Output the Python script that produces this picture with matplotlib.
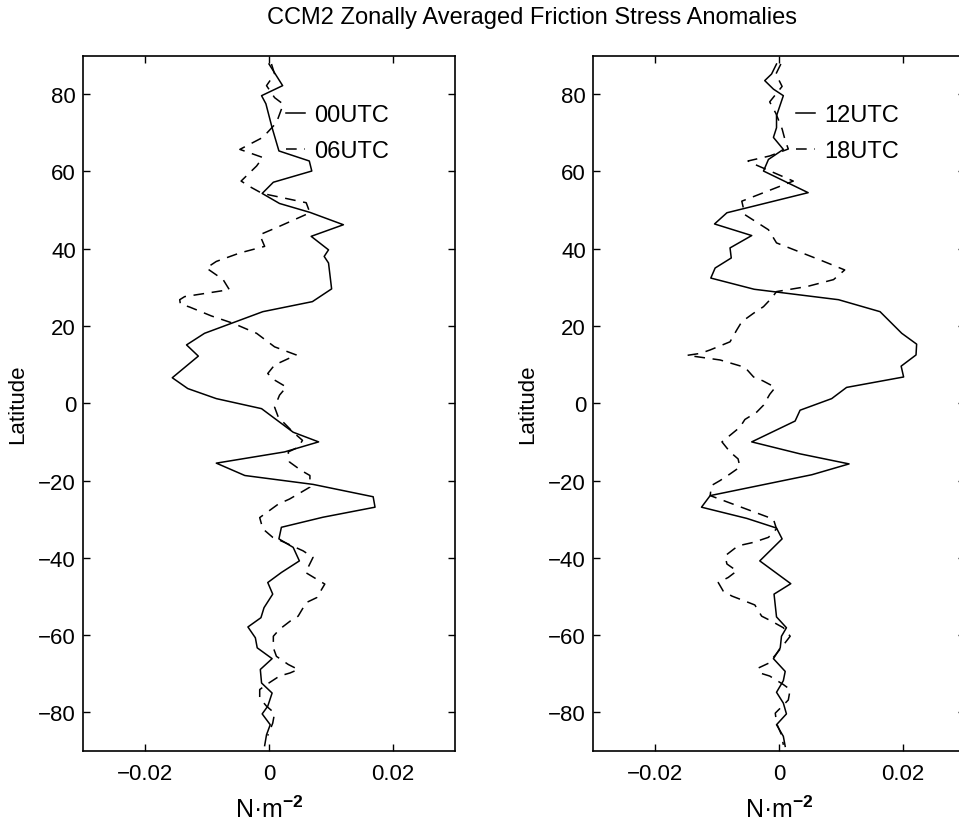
import numpy as np
import matplotlib
matplotlib.use("Agg")
import matplotlib.pyplot as plt

plt.rcParams['font.family'] = ['Liberation Sans', 'DejaVu Sans']
plt.rcParams['mathtext.fontset'] = 'custom'
plt.rcParams['mathtext.rm'] = 'Liberation Sans'
plt.rcParams['mathtext.bf'] = 'Liberation Sans:bold'

# ---
# data, values in N m^-2 x 1e-3
# ---

title = "CCM2 Zonally Averaged Friction Stress Anomalies"

lat_00 = [87.8, 82.2, 79.6, 77.5, 71.3, 65.3, 62.7, 60.1, 57.2, 54.3, 51.7, 49.4, 46.2, 43.2,
          39.7, 38.0, 36.3, 29.6, 26.3, 23.7, 18.1, 15.1, 12.2, 6.6, 3.8, 1.2, -1.4, -7.5,
          -10.0, -12.6, -15.5, -18.7, -21.0, -24.2, -26.9, -29.5, -32.1, -35.1, -37.3, -40.8,
          -43.8, -46.4, -49.4, -52.9, -55.5, -57.9, -60.7, -63.3, -66.1, -68.9, -72.4, -75.0,
          -78.4, -80.4, -83.2, -85.8, -88.6]
val_00 = [0.0, 2.2, -1.2, -0.5, 0.5, 1.6, 6.5, 6.9, 0.7, -1.1, 1.7, 6.6, 12.0, 6.8,
          9.6, 8.9, 9.6, 10.1, 7.0, -1.0, -10.4, -13.3, -11.4, -15.6, -13.1, -8.5, -1.2, 3.9,
          8.0, 2.5, -8.5, -3.9, 7.1, 16.8, 17.1, 8.7, 2.0, 1.6, 3.9, 4.9,
          2.0, -0.2, 0.6, -0.8, -1.3, -3.4, -2.2, -1.9, 0.5, -1.4, -1.2, 0.5,
          -0.2, -1.1, 0.2, -0.4, -0.7]

lat_06 = [87.8, 85.2, 82.2, 79.1, 77.4, 72.6, 68.8, 65.7, 63.6, 61.4, 57.5, 55.8, 54.3, 51.9,
          49.3, 45.8, 43.6, 40.6, 38.9, 36.7, 35.0, 32.0, 29.4, 27.6, 26.8, 25.7, 24.9, 22.6,
          20.7, 18.1, 14.6, 12.5, 9.9, 7.7, 6.0, 4.2, 2.1, -1.0, -3.6, -7.5, -9.6, -11.4,
          -12.6, -15.2, -17.4, -18.7, -21.7, -23.5, -24.8, -26.1, -29.6, -32.5, -34.7, -36.0,
          -38.2, -39.9, -43.8, -46.8, -50.3, -51.6, -55.1, -56.4, -58.5, -60.3, -63.3, -65.5,
          -67.6, -68.9, -69.8, -70.6, -72.8, -74.1, -76.3, -78.4, -80.2, -82.8, -86.0]
val_06 = [0.4, 0.9, -0.4, 0.9, 2.3, 1.2, -1.0, -4.7, -1.0, -2.0, -4.5, -2.8, -1.1, 6.0,
          6.6, 1.7, -1.5, -0.7, -4.7, -8.5, -10.1, -7.4, -6.4, -13.6, -14.4, -14.3, -12.8, -9.3,
          -5.8, -2.0, 0.9, 4.4, 0.9, -0.2, 0.9, 2.8, 1.7, 0.9, 1.5, 3.9, 5.4, 4.7,
          3.1, 3.3, 5.2, 6.6, 6.6, 4.7, 3.3, 1.5, -1.5, -1.0, 0.6, 2.5,
          5.5, 7.1, 5.9, 9.0, 7.7, 6.0, 4.7, 3.4, 1.7, 0.7, 0.7, 1.2,
          3.1, 4.7, 3.4, 1.7, -0.4, -1.5, -1.5, -0.4, 0.9, 0.6, -0.2]

lat_12 = [87.8, 85.2, 83.5, 81.3, 79.6, 74.4, 71.3, 68.8, 65.7, 63.1, 60.1, 54.5, 49.3, 46.4,
          43.4, 40.2, 37.6, 35.0, 32.4, 29.5, 26.8, 23.7, 18.1, 15.3, 12.5, 9.6, 6.8, 4.1,
          1.2, -1.8, -4.6, -10.0, -13.1, -15.7, -18.5, -23.9, -26.9, -29.8, -32.3, -35.1,
          -40.8, -46.7, -49.4, -55.3, -58.1, -60.3, -63.3, -66.1, -69.4, -71.8, -74.8, -77.6,
          -80.4, -83.2, -86.2, -88.8]
val_12 = [-0.4, -1.2, -2.3, -0.9, 0.7, -0.4, -0.4, -0.9, 0.7, -1.7, -2.5, 4.7, -8.4, -10.4,
          -4.4, -7.9, -7.7, -10.3, -11.0, -4.0, 9.6, 16.3, 19.8, 22.2, 22.1, 19.7, 20.1, 10.9,
          8.5, 3.4, 2.6, -4.4, 3.4, 11.3, 5.3, -11.1, -12.5, -5.2, -0.4, 0.5,
          -3.1, 1.9, -0.8, -0.4, 1.2, 0.4, 0.2, -0.9, 1.0, 0.7, -0.4, 0.7,
          1.2, -0.4, 0.7, 1.0]

lat_18 = [87.8, 85.2, 82.0, 78.0, 75.0, 71.0, 68.0, 65.8, 64.0, 62.7, 61.6, 57.5, 52.3, 48.8,
          44.9, 41.5, 37.1, 34.5, 32.0, 30.2, 28.9, 27.2, 25.0, 23.3, 21.1, 19.0, 15.9, 13.8,
          12.9, 12.4, 11.2, 9.3, 6.8, 5.8, 4.1, 2.3, -0.5, -2.3, -4.2, -6.2, -10.0, -12.6,
          -14.4, -16.5, -18.3, -20.0, -21.3, -23.9, -30.0, -32.5, -34.7, -36.0, -36.9, -39.5,
          -41.6, -43.4, -45.1, -46.4, -48.6, -49.9, -51.2, -52.2, -55.1, -56.4, -58.1, -60.3,
          -63.0, -65.0, -67.3, -68.5, -69.8, -70.6, -72.8, -74.1, -76.8, -78.6, -80.2, -82.8,
          -85.8, -88.4]
val_18 = [0.3, -0.5, 0.5, -1.5, -0.5, 0.5, 1.0, 1.5, -1.5, -5.0, -3.6, 2.3, -6.0, -5.5,
          -1.7, -0.4, 6.6, 10.6, 8.8, 4.5, -0.4, -1.2, -2.5, -4.1, -6.0, -6.8, -7.9, -11.1,
          -12.7, -14.8, -9.5, -5.5, -4.1, -2.6, -0.6, -1.5, -2.5, -3.6, -5.5, -6.3, -9.2, -7.9,
          -6.6, -6.3, -7.9, -9.5, -10.9, -11.1, -0.9, -0.4, -1.7, -4.1, -6.6, -8.7,
          -8.4, -6.8, -8.2, -9.8, -9.0, -7.6, -5.5, -3.9, -2.8, -1.2, 0.7, 1.8,
          0.5, -0.5, -1.7, -3.3, -3.1, -1.5, 0.7, 1.8, 1.5, 0.4, -0.6, -0.4,
          0.4, 0.7]

panels = [
    (lat_00, val_00, "00UTC", lat_06, val_06, "06UTC"),
    (lat_12, val_12, "12UTC", lat_18, val_18, "18UTC"),
]

# ---
# figure
# ---

W, H = 959, 829
fig = plt.figure(figsize=(W / 100, H / 100), dpi=100)
fig.patch.set_facecolor("white")

ax_bottom = 1 - 752 / H
ax_height = 695.5 / H
ax_width = 372 / W
lefts = [83 / W, 593 / W]

dash = (0, (7, 5))
lw = 1.1

for left, (la, va, na, lb, vb, nb) in zip(lefts, panels):
    ax = fig.add_axes([left, ax_bottom, ax_width, ax_height])
    l1, = ax.plot(np.array(va) * 1e-3, la, color="black", lw=lw, label=na)
    l2, = ax.plot(np.array(vb) * 1e-3, lb, color="black", lw=lw, linestyle=dash, label=nb)

    ax.set_xlim(-0.03, 0.03)
    ax.set_ylim(-90, 90)
    ax.set_xticks([-0.02, 0, 0.02])
    ax.set_xticklabels(["\u22120.02", "0", "0.02"])
    ax.set_yticks(np.arange(-80, 81, 20))
    ax.tick_params(direction="in", length=5, width=1, top=True, right=True,
                   labelsize=16)
    ax.tick_params(axis="x", pad=9)
    ax.tick_params(axis="y", pad=5)
    for sp in ax.spines.values():
        sp.set_linewidth(1.2)

    ax.set_ylabel("Latitude", fontsize=16, labelpad=7)
    ax.set_xlabel("N\u00b7m$^{\\mathbf{-2}}$", fontsize=18, labelpad=8)

    ax.legend(handles=[l1, l2], frameon=False, loc="upper left",
              bbox_to_anchor=(0.545, 0.93), borderpad=0, borderaxespad=0,
              handlelength=0.8, handletextpad=0.4, labelspacing=0.6,
              fontsize=17)

fig.text(532 / W, 1 - 18 / H, title, ha="center", va="center", fontsize=17)

fig.savefig("out.png", dpi=100, facecolor="white")
